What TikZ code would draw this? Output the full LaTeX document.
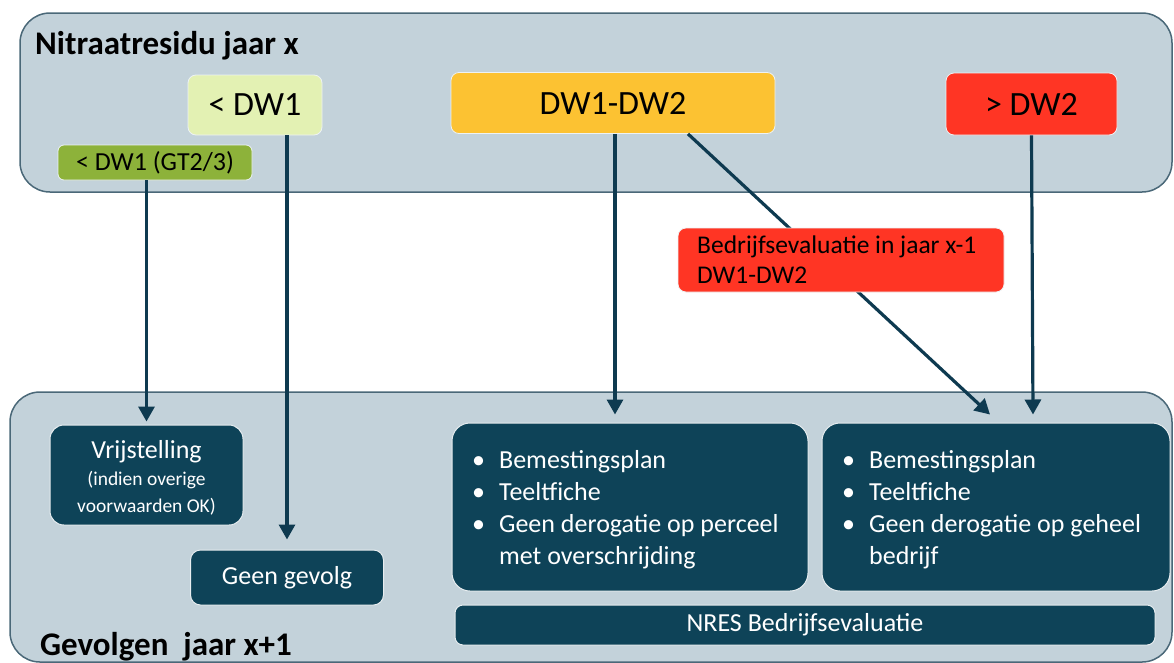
\documentclass[tikz,border=0pt]{standalone}
\usepackage{fontspec}
\setmainfont{Carlito}
\usetikzlibrary{arrows.meta,calc}
\definecolor{panelfill}{HTML}{C3D2DA}
\definecolor{panelline}{HTML}{4A6878}
\definecolor{darkbox}{HTML}{0E4358}
\definecolor{arrowc}{HTML}{0E3A50}
\definecolor{lightgreen}{HTML}{E3F1B3}
\definecolor{midgreen}{HTML}{8DB23A}
\definecolor{orangec}{HTML}{FCC232}
\definecolor{redc}{HTML}{FF3524}
\tikzset{
  panel/.style={draw=panelline, line width=1.5pt, fill=panelfill, rounded corners=30pt},
  tag/.style={rounded corners=8pt, inner sep=0pt, text=black, draw=white!70!panelfill, line width=0.8pt},
  bigtag/.style={tag, font=\fontsize{34}{38}\selectfont},
  dbox/.style={fill=darkbox, draw=white!60!panelfill, line width=1pt, rounded corners=18pt, inner sep=0pt, text=white},
  dtext/.style={text=white, inner sep=0pt},
  conn/.style={draw=arrowc, line width=3.2pt, -{Triangle[length=15pt,width=16pt]}},
  title/.style={font=\fontsize{33}{36}\selectfont\bfseries, anchor=base west, inner sep=0pt}
}
\begin{document}
\begin{tikzpicture}[x=1pt,y=-1pt]
\useasboundingbox (0,0) rectangle (1174,662);
% panels
\draw[panel] (20,13) rectangle (1172,192);
\draw[panel] (10,392) rectangle (1172,662);
\node[title] (t1) at (35,54) {Nitraatresidu jaar x};
\node[title] (t2) at (40,655) {Gevolgen\ \ jaar x+1};
% top tags
\node[bigtag, fill=lightgreen, minimum width=134pt, minimum height=60pt] (dw1) at (255,105) {< DW1};
\node[tag, fill=midgreen, minimum width=194pt, minimum height=35pt, font=\fontsize{26}{28}\selectfont, rounded corners=6pt] (gt) at (155,162.5) {< DW1 (GT2/3)};
\node[bigtag, fill=orangec, minimum width=324pt, minimum height=61pt] (dw12) at (613,103) {DW1-DW2};
\node[bigtag, fill=redc, minimum width=171pt, minimum height=62pt] (dw2) at (1031.5,104) {> DW2};
% bottom boxes
\node[dbox, minimum width=193pt, minimum height=100pt, rounded corners=14pt] (vrij) at (146.5,475) {};
\node[dtext, anchor=base, font=\fontsize{19.5}{27}\selectfont] (vrijt) at (vrij.center |- 0,458)
  {\begin{tabular}[t]{@{}c@{}}{\fontsize{26}{27}\selectfont Vrijstelling}\\(indien overige\\voorwaarden OK)\end{tabular}};
\node[dbox, minimum width=193pt, minimum height=55pt, rounded corners=10pt, font=\fontsize{26}{28}\selectfont] (geen) at (287,577.5) {Geen gevolg};
\node[dbox, minimum width=356pt, minimum height=168pt] (box1) at (630,507) {};
\node[dtext, anchor=base west, font=\fontsize{26}{32}\selectfont] (l1) at (472,468)
  {\begin{tabular}[t]{@{}l@{\hspace{14pt}}l@{}}\textbullet & Bemestingsplan\\ \textbullet & Teeltfiche\\ \textbullet & Geen derogatie op perceel\\ & met overschrijding\end{tabular}};
\node[dbox, minimum width=348pt, minimum height=168pt] (box2) at (996,507) {};
\node[dtext, anchor=base west, font=\fontsize{26}{32}\selectfont] (l2) at (842,468)
  {\begin{tabular}[t]{@{}l@{\hspace{14pt}}l@{}}\textbullet & Bemestingsplan\\ \textbullet & Teeltfiche\\ \textbullet & Geen derogatie op geheel\\ & bedrijf\end{tabular}};
\node[dbox, minimum width=700pt, minimum height=40pt, rounded corners=8pt, font=\fontsize{26}{28}\selectfont] (nres) at (805,625) {NRES Bedrijfsevaluatie};
% connectors
\coordinate (diagS) at ($(dw12.south)+(75,0)$);
\coordinate (diagE) at ($(box2.north)+(-6,-8)$);
\coordinate (dw2E) at ($(box2.north)+(37,-8)$);
\draw[conn] (gt.south -| vrij.north) -- ($(vrij.north)+(0,-3)$);
\draw[conn] (dw1.south -| geen.north) -- ($(geen.north)+(0,-10)$);
\draw[conn] ($(dw12.south)+(2,0)$) -- ($(dw12.south |- box1.north)+(2,-8)$);
\draw[conn] (diagS) -- (diagE);
\draw[conn] (dw2.south) -- (dw2E);
% label over diagonal
\node[tag, fill=redc, minimum width=326pt, minimum height=64pt] (eval) at (841,260) {};
\node[anchor=base west, inner sep=0pt, font=\fontsize{25.5}{30}\selectfont] (evalt) at (697,253)
  {\begin{tabular}[t]{@{}l@{}}Bedrijfsevaluatie in jaar x-1\\DW1-DW2\end{tabular}};
\end{tikzpicture}
\end{document}
